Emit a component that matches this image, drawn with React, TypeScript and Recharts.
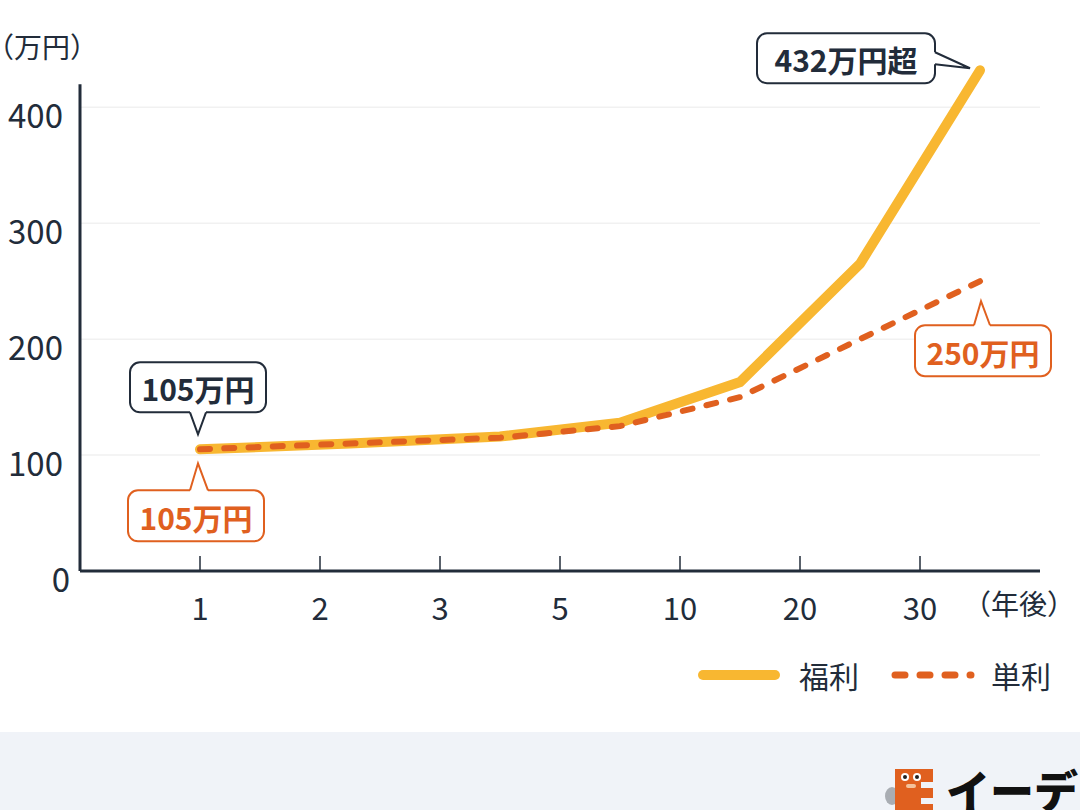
import { CartesianGrid, LabelList, Legend, Line, LineChart, ReferenceLine, XAxis, YAxis } from 'recharts';

// x positions are in tick units (tick 0 = "1", tick 6 = "30")
const yearLabels = ['1', '2', '3', '5', '10', '20', '30'];
const tickPositions = [0, 1, 2, 3, 4, 5, 6];
const pointPositions = [0, 1.25, 2.5, 3.5, 4.5, 5.5, 6.5];
const compoundValues = [105, 110, 116, 128, 163, 265, 432];
const simpleValues = [105, 110, 115, 125, 150, 200, 250];
const yTicks = [0, 100, 200, 300, 400];
const gridValues = [100, 200, 300, 400];

const compoundCallouts = [
  { index: 0, text: '105万円', side: 'above' },
  { index: 6, text: '432万円超', side: 'left' },
];
const simpleCallouts = [
  { index: 0, text: '105万円', side: 'below' },
  { index: 6, text: '250万円', side: 'belowRight' },
];

const compoundData = pointPositions.map((pos, i) => ({ pos, value: compoundValues[i] }));
const simpleData = pointPositions.map((pos, i) => ({ pos, value: simpleValues[i] }));

const FONT = '"Noto Sans CJK JP", "Noto Sans", sans-serif';
const DARK = '#222c3a';
const YELLOW = '#f8b731';
const ORANGE = '#e0601f';

const Bubble = ({ x, y, text, color, side }: { x: number; y: number; text: string; color: string; side: string }) => {
  let bx = 0, by = 0, bw = 136, bh = 50;
  let p1: number[] = [], tip: number[] = [], p2: number[] = [];
  let q1: number[] = [], q2: number[] = [];
  if (side === 'above') {
    bx = x - 70; by = y - 87;
    p1 = [x - 10, by + bh]; tip = [x - 2, y - 15]; p2 = [x + 6, by + bh];
    q1 = [p1[0], p1[1] - 3]; q2 = [p2[0], p2[1] - 3];
  } else if (side === 'below') {
    bx = x - 72; by = y + 41; bh = 51;
    p1 = [x - 10, by]; tip = [x - 2, y + 14]; p2 = [x + 8, by];
    q1 = [p1[0], p1[1] + 3]; q2 = [p2[0], p2[1] + 3];
  } else if (side === 'left') {
    bw = 178; bx = x - 223; by = y - 37;
    p1 = [bx + bw, y - 18]; tip = [x - 10, y - 2]; p2 = [bx + bw, y - 6];
    q1 = [p1[0] - 3, p1[1]]; q2 = [p2[0] - 3, p2[1]];
  } else {
    bx = x - 65; by = y + 44; bh = 51;
    p1 = [x - 6, by]; tip = [x + 1, y + 20]; p2 = [x + 10, by];
    q1 = [p1[0], p1[1] + 3]; q2 = [p2[0], p2[1] + 3];
  }
  return (
    <g>
      <rect x={bx} y={by} width={bw} height={bh} rx={10} fill="#fff" stroke={color} strokeWidth={2} />
      <polygon points={[q1, p1, tip, p2, q2].map((p) => p.join(',')).join(' ')} fill="#fff" />
      <polyline points={[p1, tip, p2].map((p) => p.join(',')).join(' ')} fill="none" stroke={color} strokeWidth={2} strokeLinejoin="miter" />
      <text x={bx + bw / 2} y={by + bh / 2 + 1} textAnchor="middle" dominantBaseline="central" fontFamily={FONT} fontSize={30} fontWeight={700} fill={color}>
        {text}
      </text>
    </g>
  );
};

const calloutContent = (callouts: typeof compoundCallouts, color: string) => (props: any) => {
  const c = callouts.find((item) => item.index === props.index);
  if (!c) return null;
  return <Bubble x={Number(props.x)} y={Number(props.y)} text={c.text} color={color} side={c.side} />;
};

const XTick = ({ x, y, payload }: any) => (
  <g>
    <line x1={x} x2={x} y1={y - 15} y2={y} stroke={DARK} strokeWidth={1.5} />
    <text x={x} y={y + 35} textAnchor="middle" dominantBaseline="central" fontFamily={FONT} fontSize={31} fill={DARK}>
      {yearLabels[payload.value]}
    </text>
  </g>
);

// the "0" label sits a bit to the right in the original
const YTick = ({ x, y, payload }: any) => (
  <text x={payload.value === 0 ? x + 7 : x} y={y + 7} textAnchor="end" dominantBaseline="central" fontFamily={FONT} fontSize={33} fill={DARK}>
    {payload.value}
  </text>
);

const LegendContent = () => (
  <svg width={1080} height={50} style={{ display: 'block' }}>
    <line x1={703} x2={775} y1={25} y2={25} stroke={YELLOW} strokeWidth={10} strokeLinecap="round" />
    <text x={799} y={25} dominantBaseline="central" fontFamily={FONT} fontSize={30} fill={DARK}>福利</text>
    <line x1={895} x2={971} y1={25} y2={25} stroke={ORANGE} strokeWidth={7} strokeLinecap="round" strokeDasharray="10 15" />
    <text x={991} y={25} dominantBaseline="central" fontFamily={FONT} fontSize={30} fill={DARK}>単利</text>
  </svg>
);

export default function App() {
  return (
    <div style={{ position: 'absolute', left: 0, top: 0, width: 1080, height: 810, overflow: 'hidden', background: '#fff', fontFamily: FONT }}>
      <div style={{ position: 'absolute', left: -14, top: 26, fontSize: 28, color: DARK, lineHeight: '40px' }}>（万円）</div>
      <div style={{ position: 'absolute', left: 963, top: 583, fontSize: 28, color: DARK, lineHeight: '40px' }}>（年後）</div>
      <LineChart width={1080} height={730} margin={{ top: 61, right: 40, bottom: 99, left: 0 }}>
        <CartesianGrid vertical={false} horizontalValues={gridValues} stroke="#f1f1f1" strokeWidth={1.5} />
        <XAxis
          dataKey="pos"
          type="number"
          domain={[-1, 7]}
          ticks={tickPositions}
          interval={0}
          height={60}
          tickSize={0}
          tickMargin={0}
          tickLine={false}
          axisLine={{ stroke: DARK, strokeWidth: 3 }}
          tick={<XTick />}
        />
        <YAxis
          type="number"
          domain={[0, 440]}
          ticks={yTicks}
          width={80}
          tickSize={0}
          tickMargin={17}
          tickLine={false}
          axisLine={false}
          tick={<YTick />}
        />
        <ReferenceLine segment={[{ x: -1, y: 0 }, { x: -1, y: 420 }]} stroke={DARK} strokeWidth={3} />
        <Line
          data={compoundData}
          dataKey="value"
          name="福利"
          stroke={YELLOW}
          strokeWidth={10}
          strokeLinecap="round"
          dot={false}
          activeDot={false}
          type="linear"
          isAnimationActive={false}
        >
          <LabelList dataKey="value" content={calloutContent(compoundCallouts, DARK)} />
        </Line>
        <Line
          data={simpleData}
          dataKey="value"
          name="単利"
          stroke={ORANGE}
          strokeWidth={6}
          strokeDasharray="10 14.27"
          strokeLinecap="round"
          dot={false}
          activeDot={false}
          type="linear"
          isAnimationActive={false}
        >
          <LabelList dataKey="value" content={calloutContent(simpleCallouts, ORANGE)} />
        </Line>
        <Legend
          layout="horizontal"
          verticalAlign="middle"
          align="center"
          content={<LegendContent />}
          wrapperStyle={{ position: 'absolute', left: 0, top: 650, width: 1080, height: 50 }}
        />
      </LineChart>
      <div style={{ position: 'absolute', left: 0, top: 732, width: 1080, height: 78, background: '#f0f3f8' }}>
        <svg width={1080} height={78} style={{ display: 'block' }}>
          <ellipse cx={892} cy={64} rx={7} ry={9} fill="#a9adb3" />
          <path d="M895 37 H933 V50 H921 V56 H933 V66 H921 V72 H933 V78 H895 Z" fill={ORANGE} />
          <circle cx={905} cy={45} r={4} fill="#fff" />
          <circle cx={917} cy={45} r={4} fill="#fff" />
          <circle cx={905} cy={45} r={2} fill="#222" />
          <circle cx={917} cy={45} r={2} fill="#222" />
          <rect x={906} y={52} width={10} height={4} rx={2} fill="#f4c29b" />
          <text x={946} y={76} fontFamily={FONT} fontSize={44} fontWeight={900} fill="#111">イーデス</text>
        </svg>
      </div>
    </div>
  );
}
